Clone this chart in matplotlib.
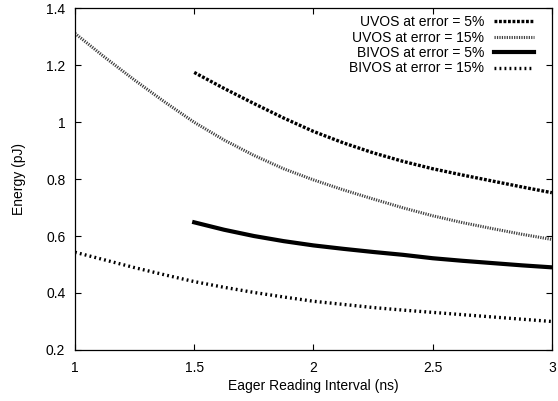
import matplotlib
matplotlib.use("Agg")
import matplotlib.pyplot as plt

plt.rcParams["font.family"] = ["Liberation Sans", "DejaVu Sans"]
plt.rcParams["font.size"] = 10

# data
x_full = [1.0, 1.125, 1.25, 1.375, 1.5, 1.625, 1.75, 1.875, 2.0,
          2.125, 2.25, 2.375, 2.5, 2.625, 2.75, 2.875, 3.0]
x_half = [1.5, 1.625, 1.75, 1.875, 2.0, 2.125, 2.25, 2.375, 2.5,
          2.625, 2.75, 2.875, 3.0]

uvos_5 = [1.174, 1.118, 1.065, 1.014, 0.967, 0.927, 0.892, 0.862, 0.836,
          0.814, 0.793, 0.772, 0.752]
uvos_15 = [1.311, 1.227, 1.147, 1.071, 0.999, 0.937, 0.883, 0.836, 0.797,
           0.762, 0.730, 0.699, 0.671, 0.647, 0.626, 0.606, 0.588]
bivos_5 = [0.648, 0.622, 0.600, 0.582, 0.567, 0.555, 0.544, 0.534, 0.522,
           0.513, 0.505, 0.497, 0.490]
bivos_15 = [0.543, 0.516, 0.489, 0.464, 0.440, 0.420, 0.402, 0.386, 0.371,
            0.360, 0.349, 0.340, 0.332, 0.324, 0.316, 0.308, 0.300]

labels = ["UVOS at error = 5%", "UVOS at error = 15%",
          "BIVOS at error = 5%", "BIVOS at error = 15%"]

fig = plt.figure(figsize=(5.58, 4.01), dpi=100)
ax = fig.add_axes([0.1344, 0.1272, 0.8546, 0.8528])

ax.plot(x_half, uvos_5, color="black", lw=2.4, dashes=(0.85, 0.5),
        dash_capstyle="butt", label=labels[0])
ax.plot(x_full, uvos_15, color="#404040", lw=2.2, dashes=(0.4, 0.4),
        dash_capstyle="butt", label=labels[1])
ax.plot(x_half, bivos_5, color="black", lw=3.0, label=labels[2])
ax.plot(x_full, bivos_15, color="black", lw=2.4, dashes=(0.55, 0.95),
        dash_capstyle="butt", label=labels[3])

ax.set_xlim(1, 3)
ax.set_ylim(0.2, 1.4)
ax.set_xticks([1, 1.5, 2, 2.5, 3])
ax.set_xticklabels(["1", "1.5", "2", "2.5", "3"])
ax.set_yticks([0.2, 0.4, 0.6, 0.8, 1.0, 1.2, 1.4])
ax.set_yticklabels(["0.2", "0.4", "0.6", "0.8", "1", "1.2", "1.4"])
ax.tick_params(direction="in", top=True, right=True, length=4, width=0.8)
ax.tick_params(axis="x", pad=8)
ax.tick_params(axis="y", pad=7)
for s in ax.spines.values():
    s.set_linewidth(0.9)

ax.set_xlabel("Eager Reading Interval (ns)", labelpad=3)
ax.set_ylabel("Energy (pJ)", labelpad=14)

ax.legend(loc="upper right", bbox_to_anchor=(0.975, 0.995), frameon=False,
          markerfirst=False, handlelength=2.9, handletextpad=0.7,
          labelspacing=0.1, borderaxespad=0.0, fontsize=10)

fig.savefig("out.png", dpi=100)
